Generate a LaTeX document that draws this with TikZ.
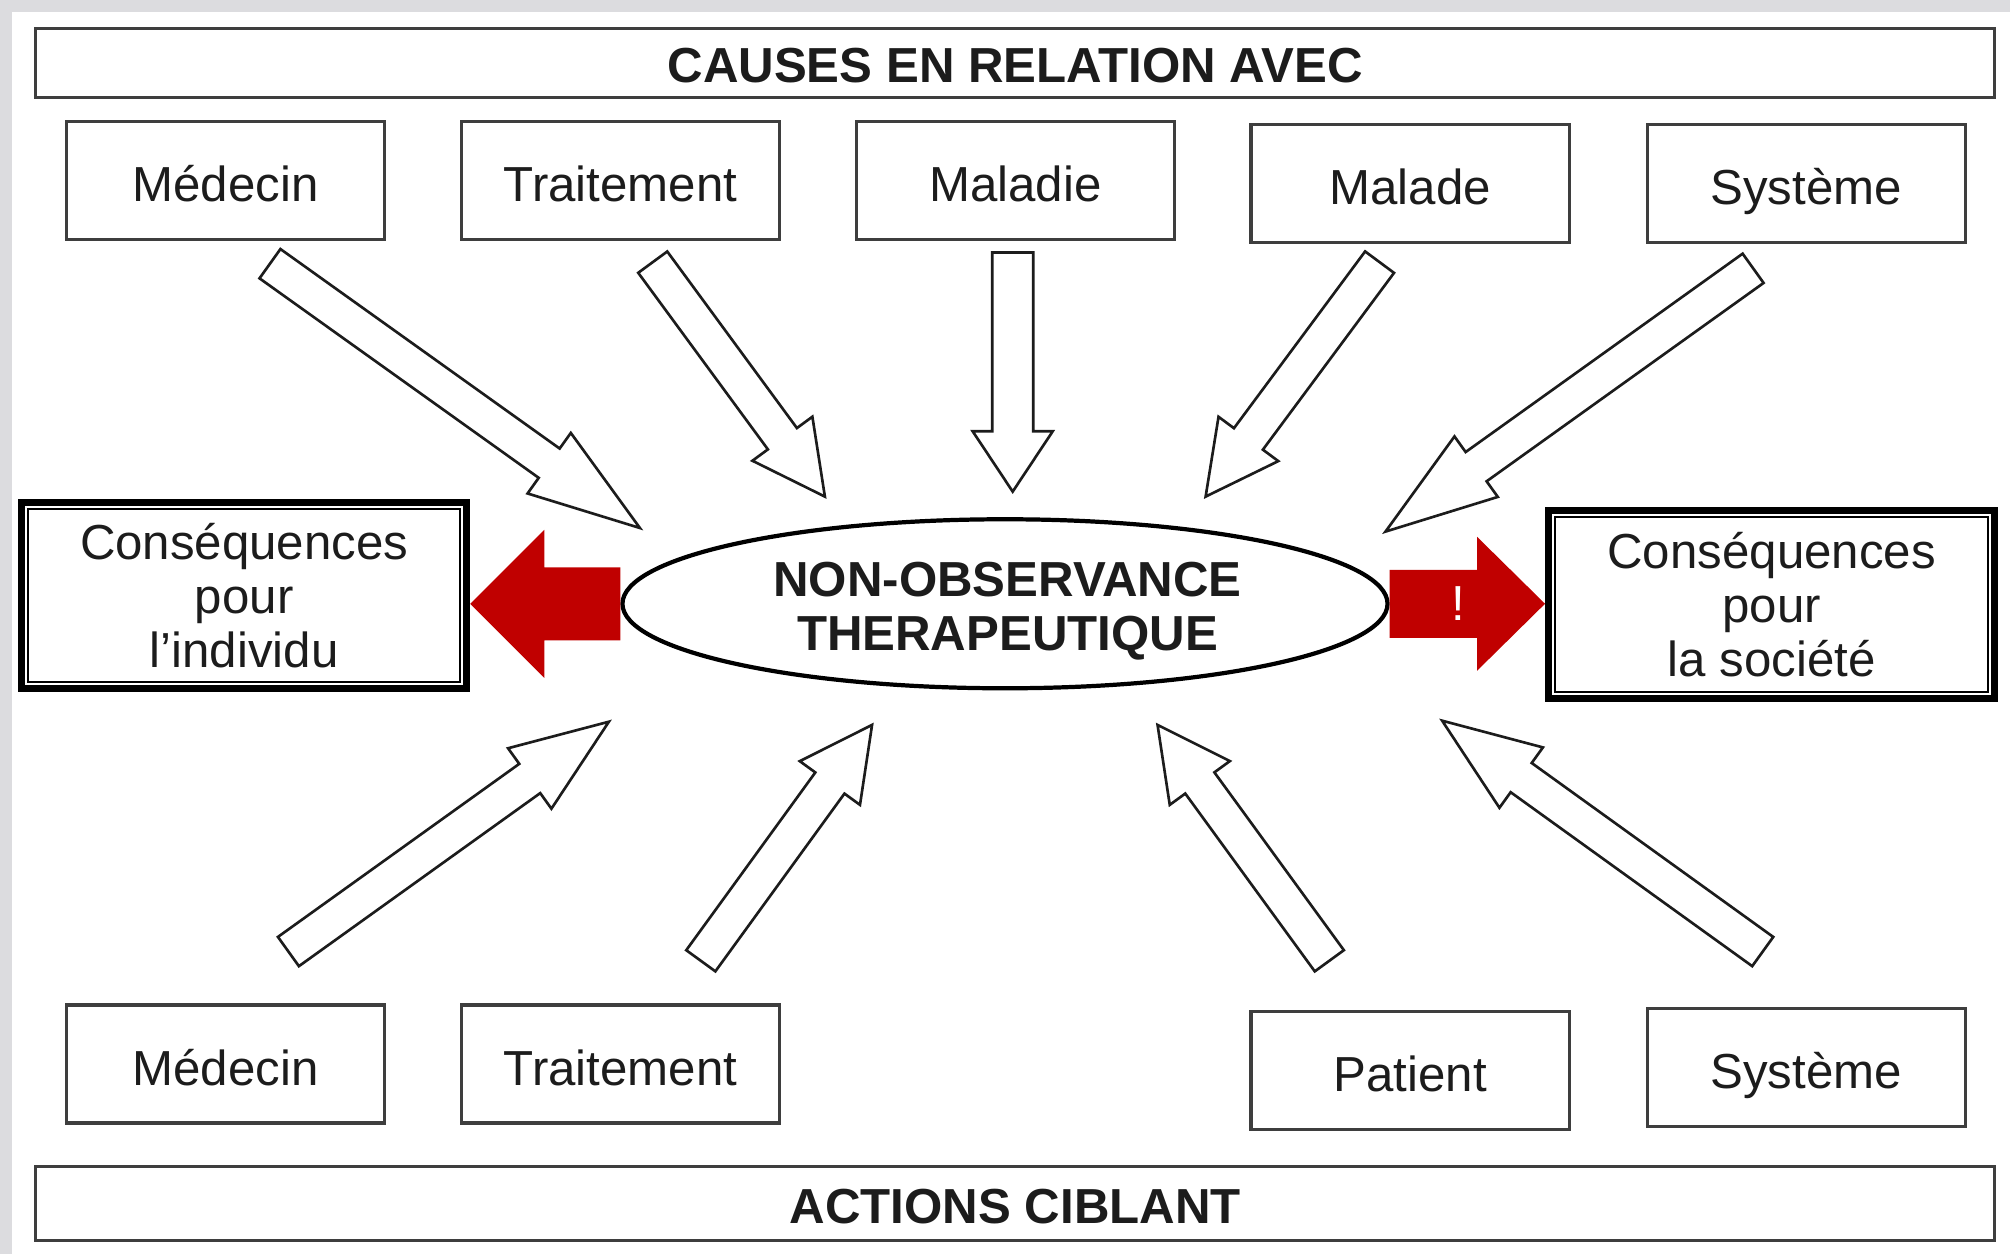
\documentclass[tikz,border=0pt]{standalone}
\usepackage{fontspec}
\setmainfont{Liberation Sans}
\usetikzlibrary{calc,shapes.geometric}
\definecolor{alarm}{HTML}{C00000}
\definecolor{frame}{HTML}{DCDCDF}
\definecolor{ink}{HTML}{1C1C1C}
% block arrow: [style]{tail}{tip}{head length}{shaft half width}{head half width}
\newcommand{\blockarrow}[6][hollow]{%
 \coordinate (hb) at ($(#3)!#4!(#2)$);
 \draw[#1] ($(#2)!#5!90:(#3)$) -- ($(hb)!#5!90:(#3)$) -- ($(hb)!#6!90:(#3)$) -- (#3)
 -- ($(hb)!#6!-90:(#3)$) -- ($(hb)!#5!-90:(#3)$) -- ($(#2)!#5!-90:(#3)$) -- cycle;}

\begin{document}
\begin{tikzpicture}[x=0.01282cm,y=-0.01282cm,font=\fontsize{14}{15.3}\selectfont,
 box/.style={draw=ink!85,line width=0.9pt,minimum width=3.18cm,minimum height=1.18cm,text=ink,
 text height=12pt,text depth=0pt},
 band/.style={draw=ink!85,line width=0.9pt,minimum width=19.59cm,text=ink,
 text height=11.4pt,text depth=0pt,font=\fontsize{14}{15.3}\selectfont\bfseries},
 conseq/.style={draw=black,line width=2pt,align=center,text=ink},
 hollow/.style={draw=ink,line width=0.75pt,fill=white,line join=miter},
 alarmarrow/.style={fill=alarm,draw=none}]
 \useasboundingbox (0,0) rectangle (1568,978);
 \fill[frame] (0,0) rectangle (1568,9);
 \fill[frame] (0,0) rectangle (9,978);

 \node[band,minimum height=0.69cm] (causes) at (792,49) {CAUSES EN RELATION AVEC};
 \node[band,minimum height=0.74cm] (actions) at (792,939) {ACTIONS CIBLANT};

 \node[box] (cmed) at (176,141) {Médecin};
 \node[box] (ctrt) at (484,141) {Traitement};
 \node[box] (cmal) at (792,141) {Maladie};
 \node[box] (cpat) at (1100,143) {Malade};
 \node[box] (csys) at (1409,143) {Système};
 \node[box] (amed) at (176,830) {Médecin};
 \node[box] (atrt) at (484,830) {Traitement};
 \node[box] (apat) at (1100,835) {Patient};
 \node[box] (asys) at (1409,833) {Système};

 \node[ellipse,draw=black,line width=1.2pt,minimum width=7.65cm,minimum height=1.69cm,inner sep=0pt] (nob) at (784,471) {};
 \node[align=center,text=ink,font=\fontsize{14}{15.3}\selectfont\bfseries] (nobt) at (786,477) {NON-OBSERVANCE\\THERAPEUTIQUE};

 \node[conseq,minimum width=4.45cm,minimum height=1.86cm] (ind) at (190.5,464.5) {Conséquences\\pour\\l’individu};
 \node[conseq,minimum width=4.46cm,minimum height=1.88cm] (soc) at (1382,471.5) {Conséquences\\pour\\la société};
 \draw[line width=0.6pt] ([shift={(8,8)}]ind.north west) rectangle ([shift={(-8,-8)}]ind.south east);
 \draw[line width=0.6pt] ([shift={(8,8)}]soc.north west) rectangle ([shift={(-8,-8)}]soc.south east);

 \coordinate (lt) at (ind.east |- nob.west);
 \coordinate (rt) at (soc.west |- nob.east);
 \blockarrow[alarmarrow]{nob.west}{lt}{0.74cm}{0.365cm}{0.74cm}
 \blockarrow[alarmarrow]{nob.east}{rt}{0.68cm}{0.34cm}{0.67cm}
 \node[text=white] (warn) at ($(nob.east)!0.44!(rt)$) {!};

 \foreach \n/\x/\y in {t1/210.6/205.7,h1/499.2/411.9,t2/509.2/204.5,h2/643.5/387.4,
 t3/790/197,h3/790/383.5,t4/1076.2/204.5,h4/940.5/387.4,t5/1367.6/209.3,h5/1080.8/414.7,
 t6/225/742.3,h6/475/563,t7/546.7/749.5,h7/680.3/565.5,
 t8/1037/749.5,h8/903/565.5,t9/1375.1/742.3,h9/1125/562.2}
 \coordinate (\n) at (\x,\y);

 \foreach \a/\b/\h in {t1/h1/1.115cm,t2/h2/0.718cm,t4/h4/0.718cm,t5/h5/1.115cm,
 t6/h6/0.974cm,t7/h7/0.718cm,t8/h8/0.718cm,t9/h9/0.974cm}
 {\blockarrow{\a}{\b}{\h}{0.18cm}{0.372cm}}
 \blockarrow{t3}{h3}{0.603cm}{0.205cm}{0.4cm}
\end{tikzpicture}
\end{document}
